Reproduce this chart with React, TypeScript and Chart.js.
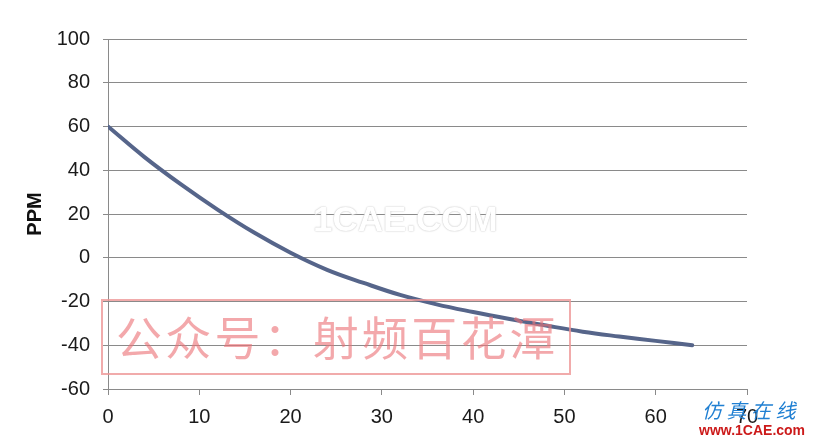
import React, { useEffect, useRef } from "react";
import { Chart, registerables } from "chart.js";

Chart.register(...registerables);

const xValues = [0, 4, 8, 12, 16, 20, 24, 28, 32, 36, 40, 44, 48, 52, 56, 60, 64];
const ppmValues = [60, 46, 33.5, 22, 11.5, 2.3, -5.5, -11.5, -17, -21.3, -24.8, -28, -31, -33.8, -36, -38, -40];
const yAxisTitle = "PPM";
const xTickMin = 0;
const xTickMax = 70;
const yTickMin = -60;
const yTickMax = 100;

export default function App() {
  const ref = useRef<HTMLCanvasElement | null>(null);

  useEffect(() => {
    document.body.style.margin = "0";
    if (!ref.current) return;
    const points = xValues.map((x, i) => ({ x, y: ppmValues[i] }));
    const chart = new Chart(ref.current, {
      type: "line",
      data: {
        datasets: [
          {
            data: points,
            borderColor: "#56658a",
            borderWidth: 4,
            pointRadius: 0,
            tension: 0.4,
            fill: false,
            borderCapStyle: "round",
          },
        ],
      },
      options: {
        animation: false,
        responsive: true,
        maintainAspectRatio: false,
        layout: { padding: { top: 39, right: 66, left: 0, bottom: 0 } },
        plugins: { legend: { display: false }, tooltip: { enabled: false } },
        scales: {
          x: {
            type: "linear",
            min: xTickMin,
            max: xTickMax,
            afterFit: (s: any) => {
              s.height = 50;
            },
            ticks: {
              stepSize: 10,
              padding: 10,
              color: "#1a1a1a",
              font: { family: "'Liberation Sans', Arial, sans-serif", size: 20 },
            },
            grid: {
              drawOnChartArea: false,
              drawTicks: true,
              tickLength: 6,
              color: "#8a8a8a",
            },
            border: { display: true, color: "#8a8a8a", width: 1 },
          },
          y: {
            min: yTickMin,
            max: yTickMax,
            afterFit: (s: any) => {
              s.width = 108;
            },
            ticks: {
              stepSize: 20,
              padding: 13,
              color: "#1a1a1a",
              font: { family: "'Liberation Sans', Arial, sans-serif", size: 20 },
            },
            grid: {
              color: "#8a8a8a",
              drawTicks: true,
              tickLength: 5,
            },
            border: { display: true, color: "#8a8a8a", width: 1 },
            title: {
              display: true,
              text: yAxisTitle,
              color: "#111",
              padding: { top: 23, bottom: 0 },
              font: { family: "'Liberation Sans', Arial, sans-serif", size: 20, weight: "bold" },
            },
          },
        },
      },
    });
    return () => chart.destroy();
  }, []);

  return (
    <div style={{ position: "relative", width: 813, height: 439, background: "#fff", overflow: "hidden" }}>
      <canvas ref={ref} />
      <div
        style={{
          position: "absolute",
          left: 313,
          top: 199,
          fontFamily: "'Liberation Sans', Arial, sans-serif",
          fontWeight: "bold",
          fontSize: 35,
          color: "#ffffff",
          textShadow: "0 0 2px #c8c8c8, 0 0 1px #d0d0d0",
          pointerEvents: "none",
          whiteSpace: "nowrap",
        }}
      >
        1CAE.COM
      </div>
      <div
        style={{
          position: "absolute",
          left: 101,
          top: 299,
          width: 466,
          height: 72,
          border: "2px solid rgba(238,150,150,0.8)",
          pointerEvents: "none",
        }}
      />
      <div
        style={{
          position: "absolute",
          left: 116,
          top: 305,
          fontFamily: "'Noto Sans CJK SC', sans-serif",
          fontSize: 46,
          lineHeight: "60px",
          letterSpacing: 3.2,
          color: "rgba(236,115,120,0.62)",
          pointerEvents: "none",
          whiteSpace: "nowrap",
        }}
      >
        公众号：射频百花潭
      </div>
      <div
        style={{
          position: "absolute",
          left: 702,
          top: 396,
          fontFamily: "'Noto Sans CJK SC', sans-serif",
          fontSize: 20,
          lineHeight: "28px",
          fontStyle: "italic",
          color: "#1f7fd2",
          pointerEvents: "none",
          whiteSpace: "nowrap",
        }}
      >
        仿 真 在 线
      </div>
      <div
        style={{
          position: "absolute",
          left: 699,
          top: 422,
          fontFamily: "'Liberation Sans', Arial, sans-serif",
          fontWeight: "bold",
          fontSize: 14,
          lineHeight: "16px",
          color: "#cc1a1a",
          pointerEvents: "none",
          whiteSpace: "nowrap",
        }}
      >
        www.1CAE.com
      </div>
    </div>
  );
}
